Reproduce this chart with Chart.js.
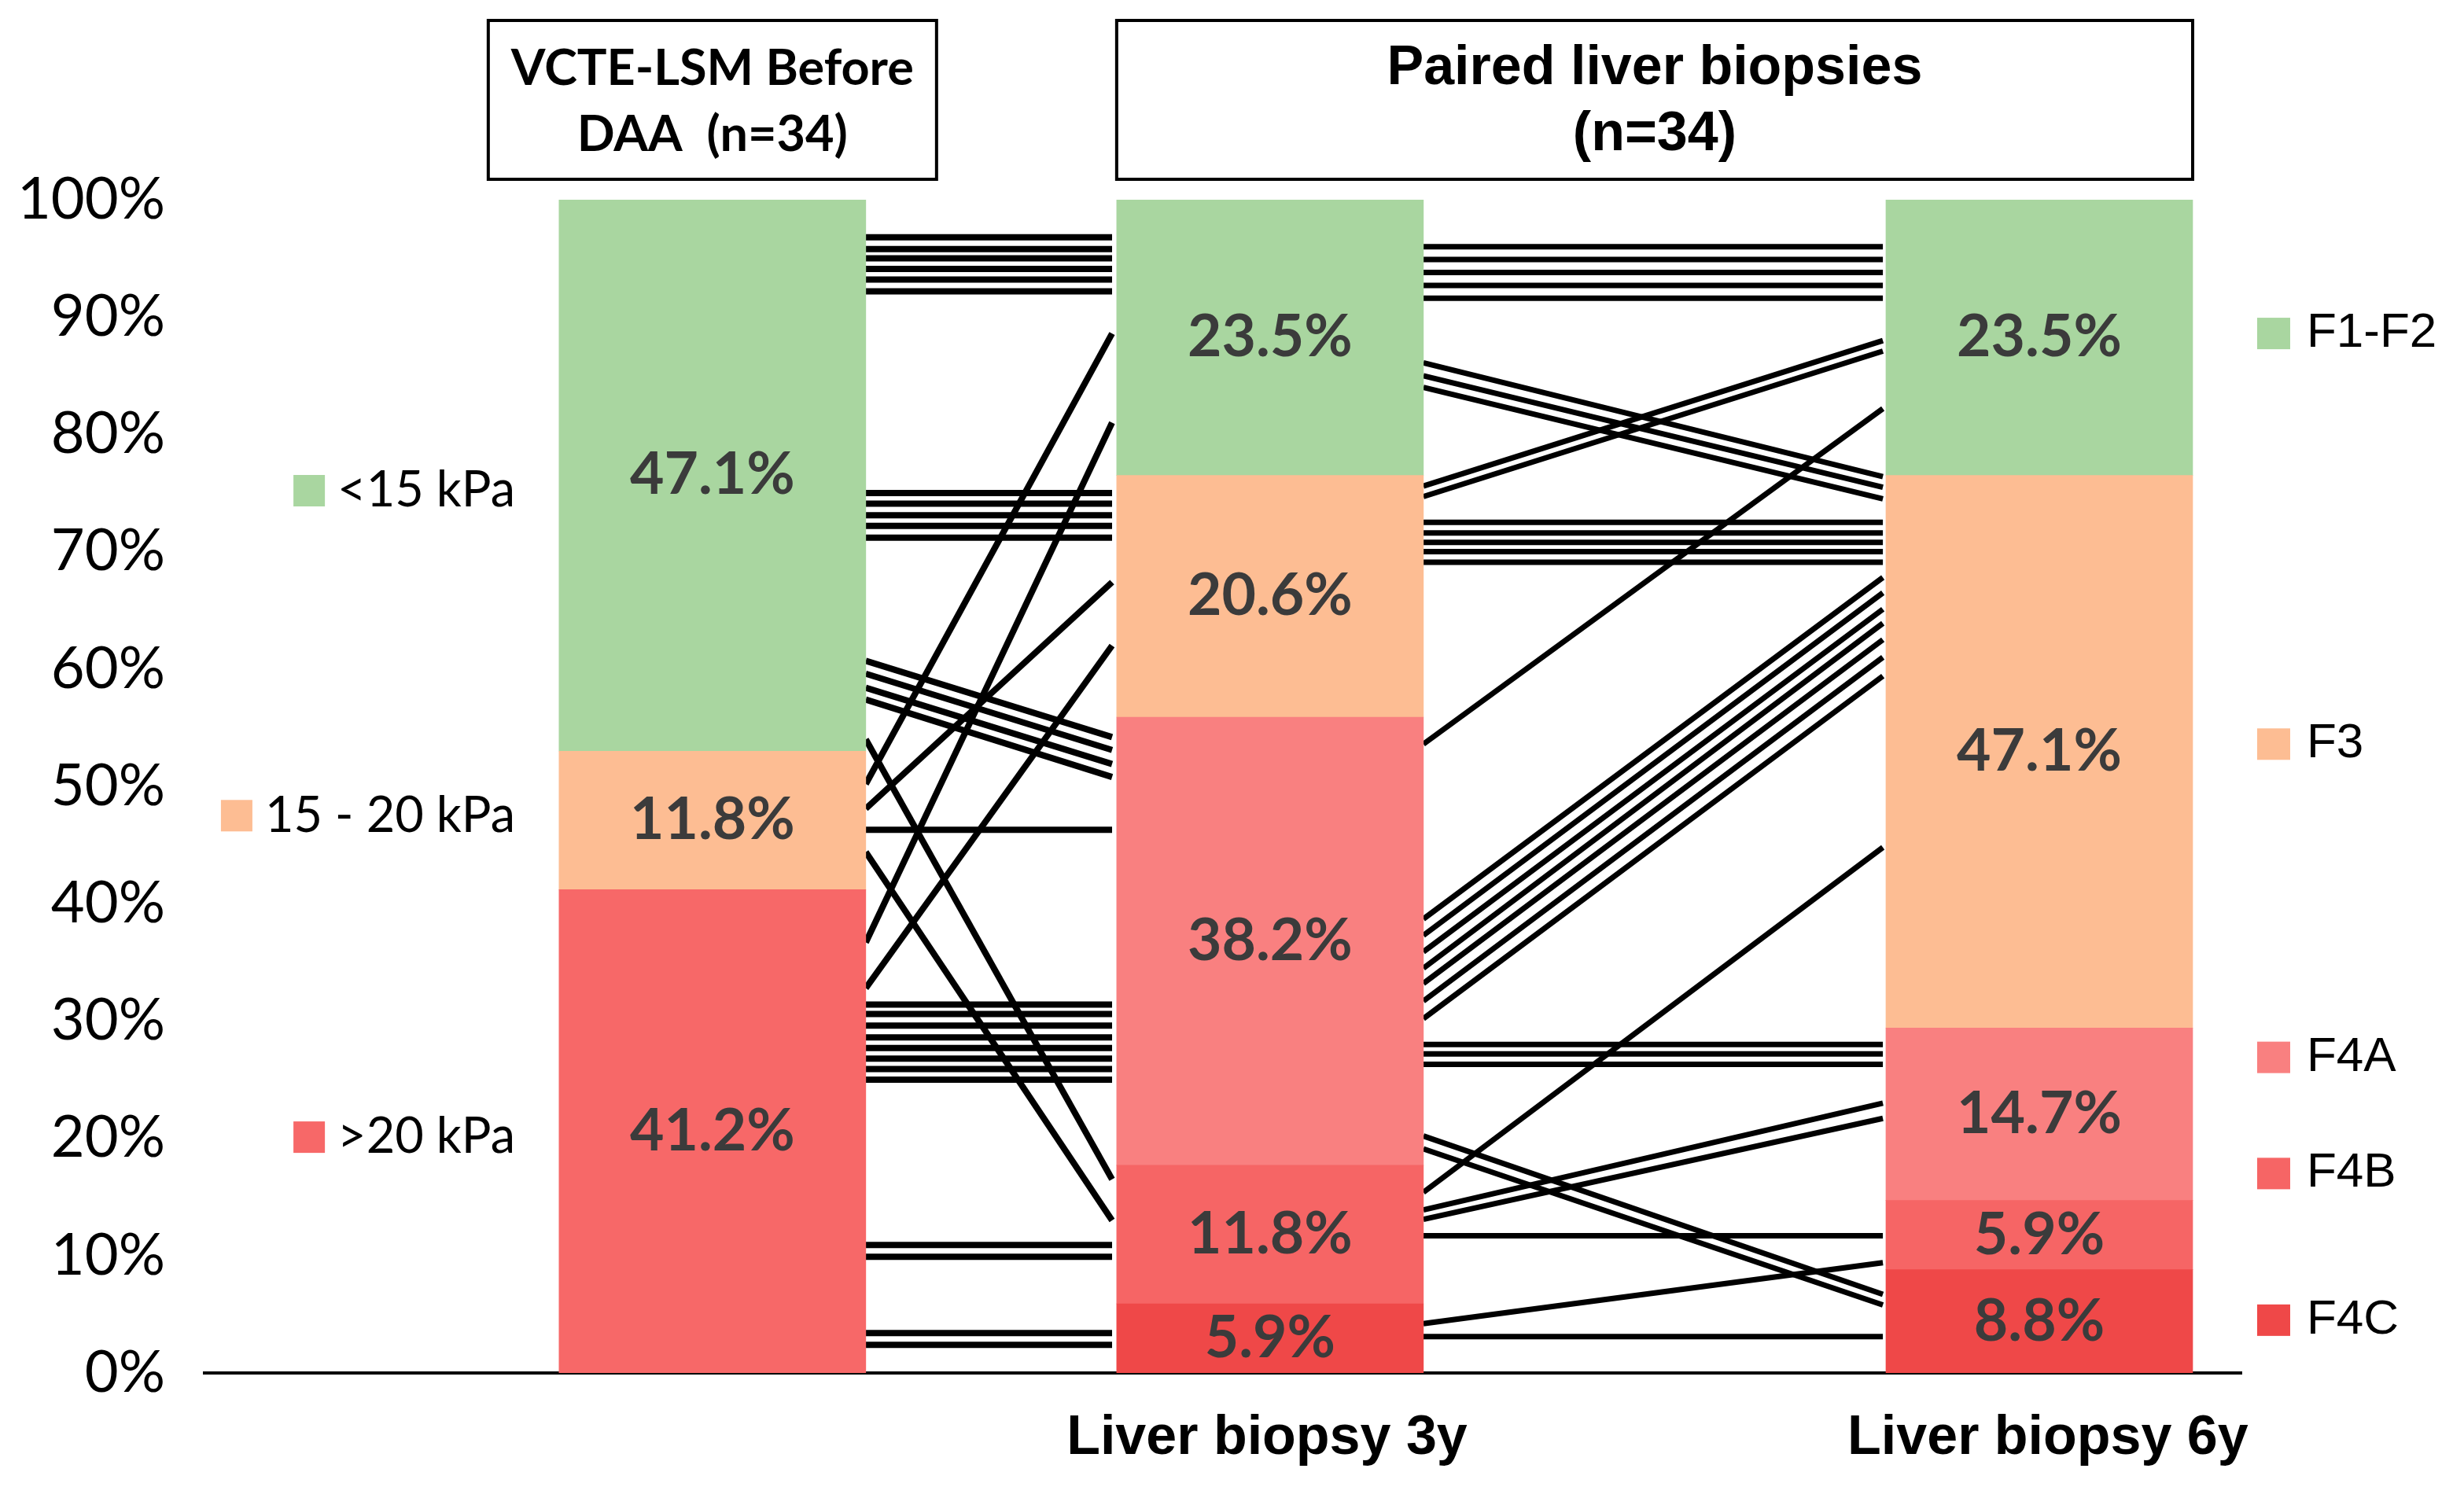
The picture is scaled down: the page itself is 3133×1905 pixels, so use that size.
<!DOCTYPE html>
<html>
<head>
<meta charset="utf-8">
<script src="https://cdn.jsdelivr.net/npm/chart.js@4.4.1/dist/chart.umd.min.js"></script>
<style>
  html, body { margin: 0; padding: 0; background: #fff; }
  #wrap { width: 3133px; height: 1905px; }
</style>
</head>
<body>
<div id="wrap"><canvas id="chart" width="3133" height="1905"></canvas></div>
<script>
// bar positions on the x axis (unit = one bar width) and their axis labels
const stageX = [1.656, 3.474, 5.982];
const stageLabels = ['', 'Liver biopsy 3y', 'Liver biopsy 6y'];
const labelX = [1.656, 3.464, 6.01];

// VCTE-LSM before DAA (first bar), bottom to top
const kpaLabels = ['>20 kPa', '15 - 20 kPa', '<15 kPa'];
const kpaValues = [41.2, 11.8, 47.1];
const kpaColors = ['#f76868', '#fdbd93', '#a9d6a0'];
const kpaLegendAt = [20.1, 47.5, 75.2];

// fibrosis stage at biopsy 3y / 6y, bottom to top
const fibLabels = ['F4C', 'F4B', 'F4A', 'F3', 'F1-F2'];
const fib3y = [5.9, 11.8, 38.2, 20.6, 23.5];
const fib6y = [8.8, 5.9, 14.7, 47.1, 23.5];
const fibColors = ['#ef4848', '#f66565', '#f98080', '#fdbd93', '#a9d6a0'];
const fibLegendAt = [4.5, 17.0, 26.9, 53.6, 88.6];

// one line per patient: level (%) leaving a bar -> level arriving at the next bar
const gap1From = [96.8, 95.8, 95.0, 94.1, 93.2, 92.2, 75.0, 74.1, 73.1, 72.2, 71.2,
    60.7, 59.6, 58.4, 57.4, 54.0, 50.2, 48.1, 46.3, 44.4, 36.7, 32.8,
    31.4, 30.6, 29.6, 28.6, 27.7, 26.8, 25.9, 25.0, 10.9, 9.9, 3.4, 2.4];
const gap1To = [96.8, 95.8, 95.0, 94.1, 93.2, 92.2, 75.0, 74.1, 73.1, 72.2, 71.2,
    54.2, 53.1, 51.9, 50.8, 16.5, 88.6, 67.4, 46.3, 13.0, 81.0, 62.0,
    31.4, 30.6, 29.6, 28.6, 27.7, 26.8, 25.9, 25.0, 10.9, 9.9, 3.4, 2.4];
const gap2From = [96.0, 94.9, 93.8, 92.7, 91.6, 86.1, 85.0, 84.0, 75.6, 74.7,
    72.5, 71.6, 70.8, 70.0, 69.1, 53.6, 38.7, 37.3, 35.9, 34.5, 33.2, 31.7, 30.2,
    28.0, 27.2, 26.3, 20.2, 19.1, 15.4, 13.9, 13.1, 11.7, 4.2, 3.1];
const gap2To = [96.0, 94.9, 93.8, 92.7, 91.6, 76.4, 75.5, 74.5, 88.0, 87.1,
    72.5, 71.6, 70.8, 70.0, 69.1, 82.2, 67.8, 66.5, 65.1, 63.9, 62.5, 61.0, 59.4,
    28.0, 27.2, 26.3, 6.7, 5.8, 44.8, 23.0, 21.7, 11.7, 9.4, 3.1];

const datasets = [];
kpaLabels.forEach((label, i) => datasets.push({
    type: 'bar', label,
    data: [{ x: stageX[0], y: kpaValues[i] }],
    backgroundColor: kpaColors[i]
}));
fibLabels.forEach((label, i) => datasets.push({
    type: 'bar', label,
    data: [{ x: stageX[1], y: fib3y[i] }, { x: stageX[2], y: fib6y[i] }],
    backgroundColor: fibColors[i]
}));

function addLinks(from, to, x1, x2, width) {
    from.forEach((v, i) => datasets.push({
        type: 'line',
        data: [{ x: x1, y: v }, { x: x2, y: to[i] }],
        yAxisID: 'yLink',
        borderColor: '#000', borderWidth: width, borderCapStyle: 'butt',
        pointRadius: 0, fill: false, tension: 0
    }));
}
addLinks(gap1From, gap1To, stageX[0] + 0.5, stageX[1] - 0.515, 8);
addLinks(gap2From, gap2To, stageX[1] + 0.5, stageX[2] - 0.51, 7);

// text, legends and header boxes
const annotate = {
    id: 'annotate',
    afterDatasetsDraw(chart) {
        const { ctx, scales: { x, y }, chartArea } = chart;
        ctx.save();
        ctx.textBaseline = 'middle';

        // percentages inside the segments
        ctx.font = 'bold 75px Lato';
        ctx.fillStyle = '#3b3b3b';
        ctx.textAlign = 'center';
        chart.data.datasets.forEach((ds, di) => {
            if (ds.type !== 'bar') return;
            chart.getDatasetMeta(di).data.forEach((el, j) => {
                ctx.fillText(ds.data[j].y.toFixed(1) + '%', el.x, (el.y + el.base) / 2);
            });
        });

        // left legend (kPa)
        ctx.font = '63px Lato';
        ctx.textAlign = 'right';
        const right = chartArea.left + 395;
        kpaLabels.forEach((t, i) => {
            const py = y.getPixelForValue(kpaLegendAt[i]);
            ctx.fillStyle = '#000';
            ctx.fillText(t, right, py);
            const w = ctx.measureText(t).width;
            ctx.fillStyle = kpaColors[i];
            ctx.fillRect(right - w - 56, py - 20, 40, 40);
        });

        // right legend (fibrosis)
        ctx.font = '62px "Liberation Sans", Arial, sans-serif';
        ctx.textAlign = 'left';
        fibLabels.forEach((t, i) => {
            const py = y.getPixelForValue(fibLegendAt[i]);
            ctx.fillStyle = fibColors[i];
            ctx.fillRect(chartArea.right + 20, py - 20, 42, 40);
            ctx.fillStyle = '#000';
            ctx.fillText(t, chartArea.right + 83, py);
        });

        // header boxes
        ctx.strokeStyle = '#000';
        ctx.lineWidth = 4;
        ctx.textAlign = 'center';
        ctx.fillStyle = '#000';
        const top = chartArea.top - 228, h = 202;
        const c1 = x.getPixelForValue(stageX[0]);
        ctx.strokeRect(c1 - 285, top, 570, h);
        ctx.font = 'bold 63px Lato';
        ctx.fillText('VCTE-LSM Before', c1, top + 62);
        ctx.fillText('DAA  (n=34)', c1, top + 146);

        const l2 = x.getPixelForValue(stageX[1] - 0.5);
        const r2 = x.getPixelForValue(stageX[2] + 0.5);
        ctx.strokeRect(l2, top, r2 - l2, h);
        ctx.font = 'bold 70px "Liberation Sans", Arial, sans-serif';
        ctx.fillText('Paired liver biopsies', (l2 + r2) / 2, top + 62);
        ctx.fillText('(n=34)', (l2 + r2) / 2, top + 146);
        ctx.restore();
    }
};

new Chart(document.getElementById('chart').getContext('2d'), {
    data: { datasets },
    plugins: [annotate],
    options: {
        responsive: false,
        animation: false,
        devicePixelRatio: 1,
        layout: { padding: { top: 254, right: 283, left: 0, bottom: 0 } },
        datasets: { bar: { barThickness: 390, borderWidth: 0 } },
        plugins: { legend: { display: false }, tooltip: { enabled: false } },
        scales: {
            x: {
                type: 'linear', min: 0, max: 6.641, stacked: true, offset: false,
                grid: { display: false, drawTicks: false, offset: false },
                border: { display: true, color: '#000', width: 4 },
                afterBuildTicks: s => { s.ticks = labelX.map(v => ({ value: v })); },
                afterFit: s => { s.height = 159; },
                ticks: {
                    callback: (v, i) => stageLabels[i],
                    autoSkip: false, maxRotation: 0, padding: 42, color: '#000',
                    font: { family: '"Liberation Sans", Arial, sans-serif', size: 70, weight: 'bold' }
                }
            },
            y: {
                min: 0, max: 100, stacked: true,
                grid: { display: false, drawTicks: false },
                border: { display: false },
                afterFit: s => { s.width = 260; },
                ticks: {
                    stepSize: 10, padding: 50, color: '#000',
                    callback: v => v + '%',
                    font: { family: 'Lato', size: 74 }
                }
            },
            yLink: { min: 0, max: 100, display: false }
        }
    }
});
</script>
</body>
</html>
